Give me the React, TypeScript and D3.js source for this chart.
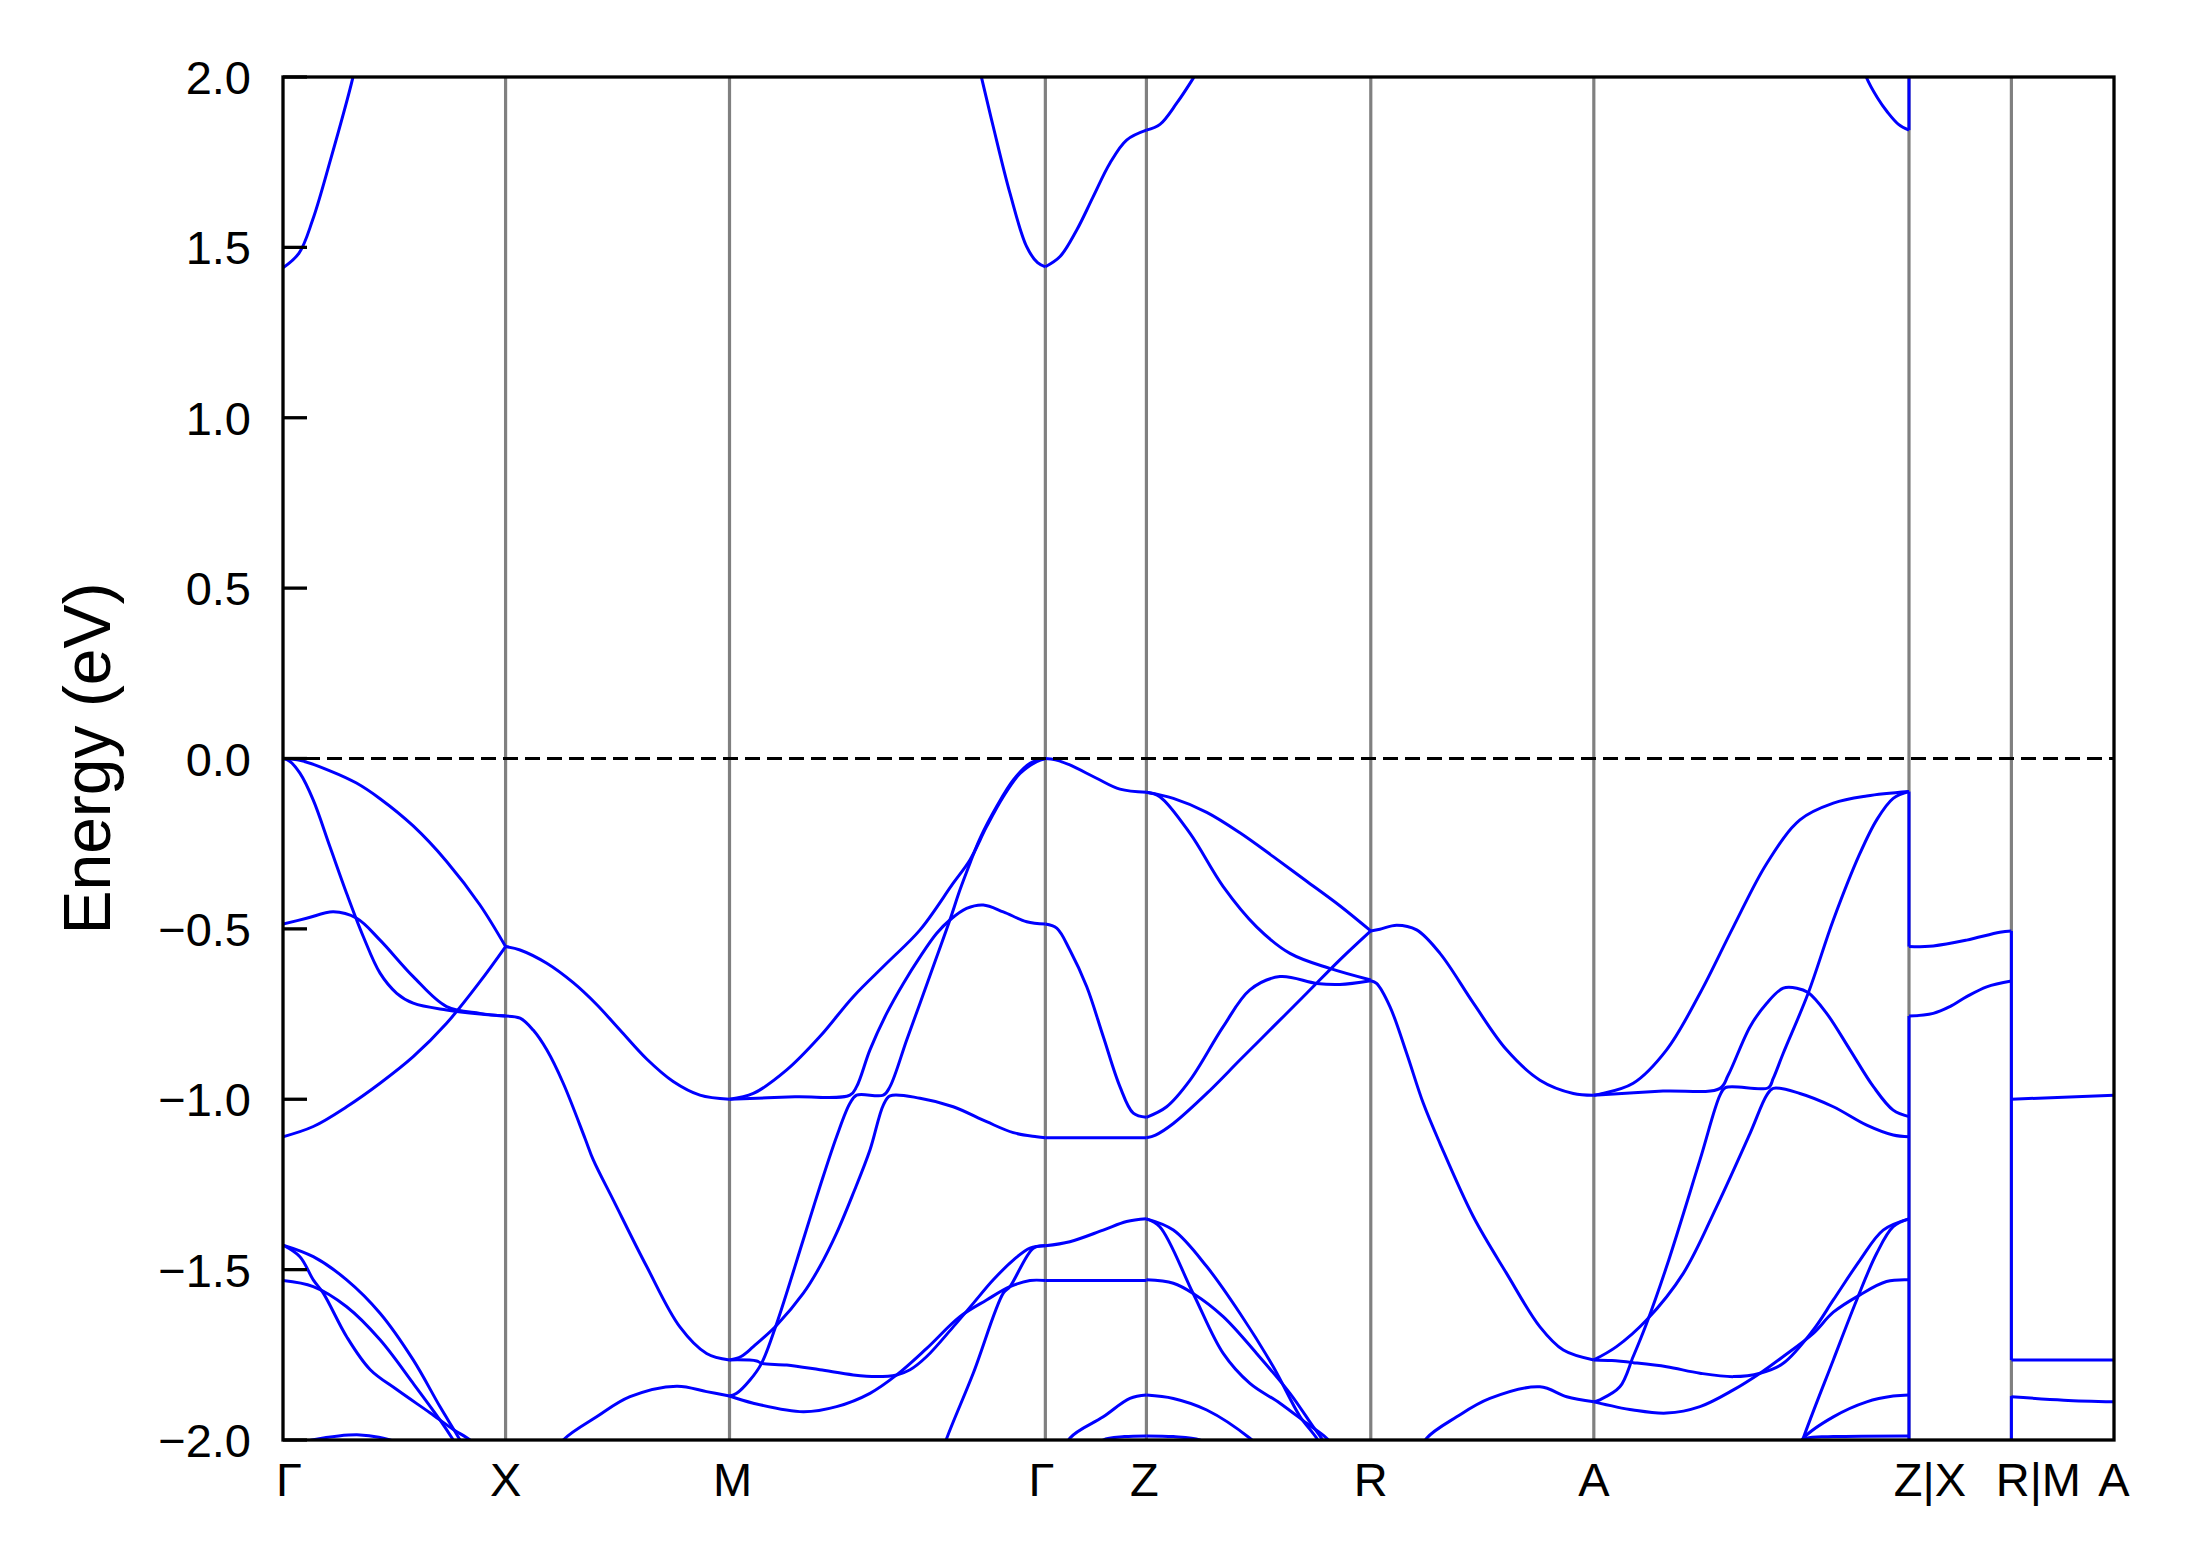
import React from "react";
import * as d3 from "d3";

type Pt = [number, number];

// ---- high-symmetry path and axis ticks ----
const kLabels = ["Γ", "X", "M", "Γ", "Z", "R", "A", "Z|X", "R|M", "A"];
const kTicks = [0, 1.0, 2.006, 3.425, 3.879, 4.887, 5.889, 7.305, 7.765, 8.226];
const eTicks = [-2.0, -1.5, -1.0, -0.5, 0.0, 0.5, 1.0, 1.5, 2.0];

// ---- bands, segment Γ–X ----
const gx1: Pt[] = [[0, 0], [0.08, -0.006], [0.211, -0.036], [0.33, -0.072], [0.436, -0.118], [0.585, -0.198], [0.735, -0.302], [0.885, -0.43], [1.0, -0.552]];
const gx2: Pt[] = [[0, 0], [0.03, -0.008], [0.076, -0.043], [0.136, -0.122], [0.211, -0.259], [0.286, -0.396], [0.361, -0.523], [0.436, -0.63], [0.511, -0.689], [0.585, -0.718], [0.735, -0.738], [0.885, -0.75], [1.0, -0.756]];
const gx3: Pt[] = [[0, -0.486], [0.106, -0.469], [0.226, -0.45], [0.331, -0.469], [0.436, -0.533], [0.585, -0.64], [0.735, -0.728], [0.885, -0.748], [1.0, -0.756]];
const gx4: Pt[] = [[0, -1.11], [0.136, -1.08], [0.286, -1.022], [0.436, -0.953], [0.585, -0.875], [0.735, -0.777], [0.885, -0.655], [1.0, -0.552]];
const gx5: Pt[] = [[0, -1.428], [0.136, -1.462], [0.286, -1.53], [0.436, -1.628], [0.585, -1.765], [0.705, -1.902], [0.795, -2.0], [0.85, -2.07]];
const gx6: Pt[] = [[0, -1.428], [0.076, -1.462], [0.136, -1.53], [0.181, -1.569], [0.286, -1.697], [0.391, -1.793], [0.511, -1.852], [0.66, -1.92], [0.765, -1.969], [0.84, -2.0], [0.9, -2.04]];
const gx7: Pt[] = [[0, -1.532], [0.136, -1.55], [0.286, -1.609], [0.436, -1.706], [0.585, -1.834], [0.705, -1.941], [0.765, -2.0], [0.82, -2.06]];
const gx8: Pt[] = [[0, -2.02], [0.13, -2.0], [0.25, -1.988], [0.346, -1.985], [0.43, -1.992], [0.5, -2.005], [0.56, -2.03]];
const gxTop: Pt[] = [[0, 1.44], [0.072, 1.483], [0.133, 1.58], [0.213, 1.756], [0.313, 1.996], [0.33, 2.05]];

// ---- segment X–M ----
const xm1: Pt[] = [[1.0, -0.552], [1.065, -0.562], [1.185, -0.601], [1.304, -0.658], [1.409, -0.722], [1.514, -0.797], [1.634, -0.882], [1.753, -0.948], [1.873, -0.988], [2.006, -1.0]];
const xm2: Pt[] = [[1.0, -0.756], [1.065, -0.762], [1.124, -0.797], [1.185, -0.855], [1.259, -0.953], [1.357, -1.115], [1.394, -1.178], [1.484, -1.296], [1.634, -1.491], [1.783, -1.668], [1.903, -1.746], [2.006, -1.765]];
const xm3: Pt[] = [[1.2, -2.06], [1.259, -2.0], [1.409, -1.932], [1.559, -1.873], [1.769, -1.842], [1.903, -1.858], [2.006, -1.871]];

// ---- segment M–Γ ----
const mg1: Pt[] = [[2.006, -1.0], [2.113, -0.983], [2.263, -0.914], [2.412, -0.816], [2.562, -0.699], [2.712, -0.601], [2.862, -0.503], [3.011, -0.366], [3.086, -0.298], [3.161, -0.2], [3.236, -0.112], [3.311, -0.044], [3.386, -0.009], [3.425, 0]];
const mg2: Pt[] = [[2.006, -1.0], [2.3, -0.993], [2.547, -0.988], [2.577, -0.963], [2.637, -0.855], [2.712, -0.748], [2.787, -0.66], [2.862, -0.582], [2.937, -0.513], [2.996, -0.474], [3.071, -0.44], [3.146, -0.43], [3.236, -0.45], [3.341, -0.479], [3.425, -0.486]];
const mg3: Pt[] = [[2.006, -1.871], [2.038, -1.863], [2.098, -1.824], [2.15, -1.775], [2.218, -1.658], [2.337, -1.413], [2.412, -1.257], [2.487, -1.11], [2.547, -1.012], [2.577, -0.988], [2.697, -0.988], [2.727, -0.963], [2.802, -0.826], [2.862, -0.718], [2.937, -0.582], [2.996, -0.474], [3.041, -0.386], [3.086, -0.308], [3.131, -0.235], [3.206, -0.141], [3.281, -0.063], [3.356, -0.014], [3.425, 0]];
const mg4: Pt[] = [[2.006, -1.765], [2.058, -1.755], [2.113, -1.726], [2.218, -1.663], [2.337, -1.57], [2.412, -1.491], [2.487, -1.393], [2.562, -1.276], [2.637, -1.149], [2.697, -1.017], [2.727, -0.99], [2.862, -0.997], [3.011, -1.022], [3.161, -1.066], [3.281, -1.098], [3.386, -1.11], [3.425, -1.113]];
const mg5: Pt[] = [[2.006, -1.765], [2.128, -1.768], [2.15, -1.775], [2.263, -1.78], [2.412, -1.794], [2.562, -1.809], [2.667, -1.814], [2.757, -1.809], [2.817, -1.794], [2.892, -1.755], [3.011, -1.668], [3.101, -1.599], [3.191, -1.53], [3.281, -1.472], [3.356, -1.437], [3.425, -1.43]];
const mg6: Pt[] = [[2.006, -1.871], [2.113, -1.892], [2.337, -1.917], [2.487, -1.902], [2.637, -1.863], [2.757, -1.809], [2.892, -1.731], [3.041, -1.638], [3.161, -1.589], [3.266, -1.55], [3.356, -1.532], [3.425, -1.532]];
const mg7: Pt[] = [[2.95, -2.06], [2.982, -1.995], [3.101, -1.804], [3.236, -1.569], [3.266, -1.55], [3.371, -1.437], [3.425, -1.43]];
const mgTop: Pt[] = [[3.12, 2.05], [3.139, 1.996], [3.191, 1.854], [3.266, 1.659], [3.341, 1.502], [3.39, 1.455], [3.425, 1.443]];

// ---- segment Γ–Z ----
const gz1: Pt[] = [[3.425, 0], [3.47, -0.004], [3.535, -0.019], [3.655, -0.058], [3.76, -0.09], [3.879, -0.099]];
const gz2: Pt[] = [[3.425, -0.486], [3.476, -0.498], [3.535, -0.562], [3.611, -0.67], [3.685, -0.816], [3.76, -0.963], [3.82, -1.041], [3.879, -1.053]];
const gz3: Pt[] = [[3.425, -1.113], [3.879, -1.113]];
const gz4: Pt[] = [[3.425, -1.43], [3.535, -1.418], [3.685, -1.384], [3.79, -1.359], [3.879, -1.351]];
const gz5: Pt[] = [[3.425, -1.532], [3.879, -1.532]];
const gz6: Pt[] = [[3.5, -2.06], [3.535, -1.995], [3.685, -1.932], [3.805, -1.878], [3.879, -1.868]];
const gz7: Pt[] = [[3.64, -2.03], [3.685, -2.0], [3.78, -1.99], [3.879, -1.988]];
const gzTop: Pt[] = [[3.425, 1.443], [3.491, 1.473], [3.566, 1.551], [3.64, 1.649], [3.715, 1.747], [3.79, 1.815], [3.879, 1.844]];

// ---- segment Z–R ----
const zr1: Pt[] = [[3.879, -0.099], [4.0, -0.117], [4.15, -0.158], [4.299, -0.218], [4.449, -0.288], [4.599, -0.36], [4.748, -0.432], [4.887, -0.506]];
const zr2: Pt[] = [[3.879, -0.099], [3.939, -0.112], [4.075, -0.22], [4.224, -0.376], [4.374, -0.494], [4.524, -0.572], [4.703, -0.616], [4.887, -0.65]];
const zr3: Pt[] = [[3.879, -1.053], [3.97, -1.022], [4.075, -0.944], [4.224, -0.787], [4.344, -0.679], [4.479, -0.64], [4.644, -0.66], [4.748, -0.663], [4.887, -0.652]];
const zr4: Pt[] = [[3.879, -1.113], [3.92, -1.105], [4.0, -1.071], [4.15, -0.983], [4.299, -0.885], [4.449, -0.787], [4.599, -0.689], [4.748, -0.591], [4.887, -0.506]];
const zr5: Pt[] = [[3.879, -1.351], [3.939, -1.374], [4.089, -1.57], [4.224, -1.746], [4.344, -1.834], [4.479, -1.892], [4.599, -1.951], [4.689, -1.995], [4.75, -2.04]];
const zr6: Pt[] = [[3.879, -1.351], [4.0, -1.384], [4.15, -1.491], [4.299, -1.628], [4.449, -1.785], [4.569, -1.931], [4.644, -1.995], [4.7, -2.06]];
const zr7: Pt[] = [[3.879, -1.53], [4.0, -1.54], [4.089, -1.57], [4.224, -1.638], [4.374, -1.746], [4.524, -1.863], [4.628, -1.961], [4.666, -1.995], [4.72, -2.05]];
const zr8: Pt[] = [[3.879, -1.868], [4.0, -1.878], [4.15, -1.912], [4.344, -1.995], [4.4, -2.03]];
const zr9: Pt[] = [[3.879, -1.988], [4.0, -1.99], [4.119, -2.0], [4.2, -2.03]];
const zrTop: Pt[] = [[3.879, 1.844], [3.94, 1.861], [4.015, 1.923], [4.089, 1.996], [4.12, 2.03]];

// ---- segment R–A ----
const ra1: Pt[] = [[4.887, -0.506], [4.928, -0.501], [5.003, -0.489], [5.093, -0.503], [5.198, -0.572], [5.348, -0.718], [5.497, -0.855], [5.647, -0.944], [5.797, -0.983], [5.889, -0.988]];
const ra2: Pt[] = [[4.887, -0.652], [4.913, -0.66], [4.973, -0.728], [5.048, -0.865], [5.123, -1.012], [5.198, -1.13], [5.348, -1.345], [5.497, -1.511], [5.647, -1.668], [5.752, -1.736], [5.889, -1.765]];
const ra3: Pt[] = [[5.1, -2.05], [5.138, -1.995], [5.273, -1.932], [5.422, -1.878], [5.647, -1.844], [5.767, -1.873], [5.889, -1.888]];

// ---- segment A–Z ----
const az1: Pt[] = [[5.889, -0.988], [5.916, -0.985], [6.066, -0.953], [6.216, -0.855], [6.366, -0.689], [6.516, -0.494], [6.666, -0.308], [6.815, -0.18], [6.965, -0.131], [7.115, -0.11], [7.305, -0.097]];
const az2: Pt[] = [[5.889, -1.888], [5.916, -1.882], [6.006, -1.844], [6.066, -1.755], [6.126, -1.658], [6.216, -1.491], [6.366, -1.178], [6.456, -0.988], [6.48, -0.966], [6.673, -0.966], [6.695, -0.939], [6.74, -0.865], [6.852, -0.689], [6.965, -0.474], [7.085, -0.278], [7.16, -0.18], [7.234, -0.117], [7.305, -0.097]];
const az3: Pt[] = [[5.889, -0.988], [6.2, -0.976], [6.456, -0.968], [6.493, -0.929], [6.591, -0.787], [6.666, -0.718], [6.74, -0.674], [6.801, -0.674], [6.852, -0.687], [6.935, -0.748], [7.04, -0.855], [7.145, -0.963], [7.234, -1.032], [7.305, -1.051]];
const az4: Pt[] = [[5.889, -1.765], [5.991, -1.726], [6.126, -1.648], [6.291, -1.511], [6.441, -1.315], [6.591, -1.1], [6.666, -0.988], [6.695, -0.968], [6.815, -0.983], [6.965, -1.022], [7.115, -1.076], [7.234, -1.105], [7.305, -1.11]];
const az5: Pt[] = [[5.889, -1.765], [5.97, -1.767], [6.066, -1.773], [6.216, -1.785], [6.366, -1.804], [6.516, -1.814], [6.636, -1.804], [6.74, -1.775], [6.875, -1.677], [6.965, -1.589], [7.085, -1.472], [7.189, -1.384], [7.305, -1.351]];
const az6: Pt[] = [[5.889, -1.888], [6.066, -1.912], [6.216, -1.921], [6.366, -1.902], [6.516, -1.853], [6.636, -1.804], [6.74, -1.755], [6.875, -1.687], [6.965, -1.625], [7.085, -1.574], [7.204, -1.535], [7.305, -1.53]];
const az7: Pt[] = [[6.8, -2.06], [6.83, -1.995], [6.965, -1.765], [7.07, -1.589], [7.16, -1.452], [7.234, -1.374], [7.305, -1.351]];
const az8: Pt[] = [[6.8, -2.03], [6.83, -1.995], [6.965, -1.932], [7.115, -1.888], [7.234, -1.871], [7.305, -1.868]];
const az9: Pt[] = [[6.8, -2.02], [6.845, -1.995], [6.965, -1.99], [7.305, -1.988]];
const azTop: Pt[] = [[7.09, 2.05], [7.113, 2.0], [7.163, 1.939], [7.207, 1.898], [7.258, 1.861], [7.305, 1.844]];

// ---- segment X–R (after Z|X) ----
const xr1: Pt[] = [[7.305, -0.552], [7.414, -0.55], [7.564, -0.533], [7.713, -0.51], [7.765, -0.506]];
const xr2: Pt[] = [[7.305, -0.756], [7.414, -0.748], [7.489, -0.728], [7.564, -0.699], [7.654, -0.67], [7.765, -0.653]];

// ---- segment M–A (after R|M) ----
const ma1: Pt[] = [[7.765, -1.0], [8.226, -0.988]];
const ma2: Pt[] = [[7.765, -1.765], [8.226, -1.765]];
const ma3: Pt[] = [[7.765, -1.873], [8.0, -1.883], [8.226, -1.888]];

// ---- vertical band jumps at discontinuities: [k, E from, E to] ----
const jumps: [number, number, number][] = [
  [7.305, -0.097, -0.552],
  [7.305, -0.756, -2.1],
  [7.305, 1.844, 2.1],
  [7.765, -0.506, -1.765],
  [7.765, -1.871, -2.1],
];

const bands: Pt[][] = [
  gx1, gx2, gx3, gx4, gx5, gx6, gx7, gx8, gxTop,
  xm1, xm2, xm3,
  mg1, mg2, mg3, mg4, mg5, mg6, mg7, mgTop,
  gz1, gz2, gz3, gz4, gz5, gz6, gz7, gzTop,
  zr1, zr2, zr3, zr4, zr5, zr6, zr7, zr8, zr9, zrTop,
  ra1, ra2, ra3,
  az1, az2, az3, az4, az5, az6, az7, az8, az9, azTop,
  xr1, xr2,
  ma1, ma2, ma3,
];

// ---- layout ----
const W = 2189;
const H = 1567;
const PL = 283;
const PR = 2114;
const PT = 77;
const PB = 1440;
const labelNudge = [6, 0, 3, -4, -2, 0, 0, 21, 27, 0];
const FONT = "'Liberation Sans', Arial, Helvetica, sans-serif";

export default function App() {
  const x = d3.scaleLinear().domain([kTicks[0], kTicks[kTicks.length - 1]]).range([PL, PR]);
  const y = d3.scaleLinear().domain([-2, 2]).range([PB, PT]);
  const line = d3
    .line<Pt>()
    .x((d) => x(d[0]))
    .y((d) => y(d[1]))
    .curve(d3.curveCatmullRom.alpha(0.5));
  const fmt = d3.format(".1f");
  const inner = kTicks.slice(1, kTicks.length - 1);

  return (
    <div style={{ position: "absolute", left: 0, top: 0 }}>
      <svg width={W} height={H} viewBox={`0 0 ${W} ${H}`} style={{ display: "block", background: "#fff" }}>
        <defs>
          <clipPath id="plotClip">
            <rect x={PL} y={PT} width={PR - PL} height={PB - PT} />
          </clipPath>
        </defs>
        <rect x={0} y={0} width={W} height={H} fill="#fff" />
        {inner.map((k, i) => (
          <line key={"v" + i} x1={x(k)} x2={x(k)} y1={PT} y2={PB} stroke="#808080" strokeWidth={3.2} />
        ))}
        <g clipPath="url(#plotClip)" fill="none" stroke="#0000ff" strokeWidth={3} strokeLinejoin="round">
          {bands.map((b, i) => (
            <path key={"b" + i} d={line(b) || ""} />
          ))}
          {jumps.map((j, i) => (
            <line key={"j" + i} x1={x(j[0])} x2={x(j[0])} y1={y(j[1])} y2={y(j[2])} />
          ))}
        </g>
        <line x1={PL} x2={PR} y1={y(0)} y2={y(0)} stroke="#000" strokeWidth={3} strokeDasharray="15,7" />
        <rect x={PL} y={PT} width={PR - PL} height={PB - PT} fill="none" stroke="#000" strokeWidth={3.3} />
        {eTicks.map((e, i) => (
          <g key={"t" + i}>
            <line x1={PL} x2={PL + 24} y1={y(e)} y2={y(e)} stroke="#000" strokeWidth={3.3} />
            <text x={251} y={y(e) + 17} textAnchor="end" fontFamily={FONT} fontSize={47} fill="#000">
              {fmt(e)}
            </text>
          </g>
        ))}
        {kTicks.map((k, i) => (
          <text key={"l" + i} x={x(k) + labelNudge[i]} y={1496} textAnchor="middle" fontFamily={FONT} fontSize={47} fill="#000">
            {kLabels[i]}
          </text>
        ))}
        <text
          transform={`translate(110, ${(PT + PB) / 2}) rotate(-90)`}
          textAnchor="middle"
          fontFamily={FONT}
          fontSize={66}
          fill="#000"
        >
          Energy (eV)
        </text>
      </svg>
    </div>
  );
}
